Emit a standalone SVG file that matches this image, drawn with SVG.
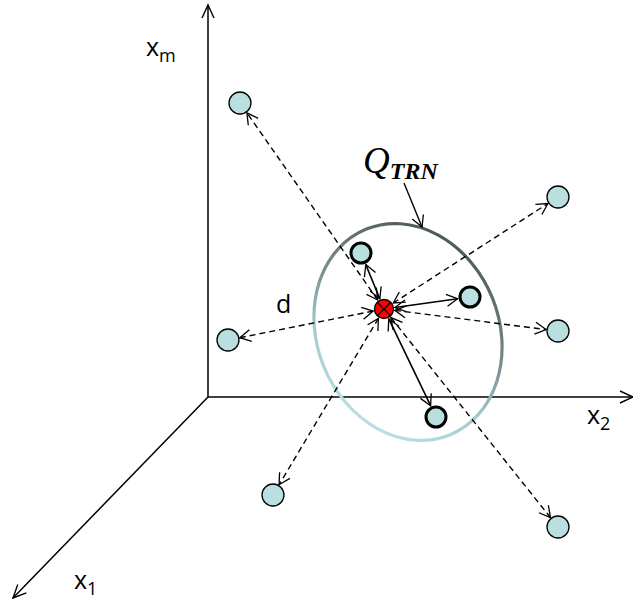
<svg xmlns="http://www.w3.org/2000/svg" width="633" height="603" viewBox="0 0 633 603">
<style>
.axis{stroke:#000;stroke-width:1.5;fill:none}
.dash{stroke:#000;stroke-width:1.4;fill:none;stroke-dasharray:6 4;marker-start:url(#ah);marker-end:url(#ah)}
.solid{stroke:#000;stroke-width:1.6;fill:none;marker-start:url(#ah);marker-end:url(#ah)}
.outer{fill:#b9dfe1;stroke:#000;stroke-width:1.3}
.inner{fill:#b9dfe1;stroke:#000;stroke-width:3}
.lbl{font-family:"Open Sans","Liberation Sans",Arial,sans-serif;fill:#000}
.q{font-family:"Liberation Serif","Times New Roman",serif;font-style:italic;fill:#000}
</style>
<defs>
<marker id="ah" markerWidth="14" markerHeight="14" refX="12" refY="7" orient="auto-start-reverse" markerUnits="userSpaceOnUse" viewBox="0 0 14 14">
<path d="M1,1 L12,7 L1,13" fill="none" stroke="#000" stroke-width="1.3"/>
</marker>
<marker id="axh" markerWidth="16" markerHeight="14" refX="14" refY="7" orient="auto" markerUnits="userSpaceOnUse" viewBox="0 0 16 14">
<path d="M1,1 L14,7 L1,13" fill="none" stroke="#000" stroke-width="1.4"/>
</marker>
<linearGradient id="eg" x1="0" y1="1" x2="1" y2="0">
<stop offset="0" stop-color="#c6ecef"/>
<stop offset="0.35" stop-color="#a4ccd0"/>
<stop offset="0.55" stop-color="#7a8e8e"/>
<stop offset="1" stop-color="#3a4242"/>
</linearGradient>
</defs>
<g id="axes">
<line class="axis" x1="208" y1="397" x2="208" y2="5" marker-end="url(#axh)"/>
<line class="axis" x1="208" y1="397" x2="633" y2="397" marker-end="url(#axh)"/>
<line class="axis" x1="208" y1="397" x2="13" y2="598" marker-end="url(#axh)"/>
</g>
<g id="labels">
<text class="lbl" x="146" y="56" font-size="25">x<tspan font-size="18" dy="6">m</tspan></text>
<text class="lbl" x="587" y="424" font-size="25">x<tspan font-size="18" dy="6">2</tspan></text>
<text class="lbl" x="74" y="589" font-size="25">x<tspan font-size="18" dy="6">1</tspan></text>
<text class="lbl" x="276" y="313" font-size="25">d</text>
<text class="q" x="363" y="173" font-size="37">Q<tspan font-size="24" font-weight="bold" dy="6">TRN</tspan></text>
</g>
<g id="region">
<ellipse cx="408" cy="332" rx="91" ry="111" transform="rotate(-22 408 332)" fill="none" stroke="url(#eg)" stroke-width="3.2"/>
</g>
<g id="connectors">
<line x1="404" y1="183" x2="422" y2="227" stroke="#000" stroke-width="1.4" marker-end="url(#ah)"/>
<line class="dash" x1="377.7" y1="300" x2="246.9" y2="112.8"/>
<line class="dash" x1="373.2" y1="311.1" x2="239.8" y2="337.7"/>
<line class="dash" x1="393.3" y1="303" x2="547.9" y2="203.5"/>
<line class="dash" x1="394.9" y1="310.4" x2="546.1" y2="329.5"/>
<line class="dash" x1="378.4" y1="318.4" x2="279.1" y2="484.7"/>
<line class="dash" x1="390.9" y1="317.6" x2="550.5" y2="517.6"/>
<line class="solid" x1="379.8" y1="298.8" x2="365.8" y2="264.6"/>
<line class="solid" x1="394.9" y1="307.5" x2="457.6" y2="298.7"/>
<line class="solid" x1="388.8" y1="318.9" x2="430.6" y2="405.7"/>
</g>
<g id="outer-nodes">
<circle id="n-tl" class="outer" cx="240" cy="103" r="11"/>
<circle id="n-l" class="outer" cx="228" cy="340" r="11"/>
<circle id="n-tr" class="outer" cx="558" cy="197" r="11"/>
<circle id="n-r" class="outer" cx="558" cy="331" r="11"/>
<circle id="n-bl" class="outer" cx="273" cy="495" r="11"/>
<circle id="n-br" class="outer" cx="558" cy="527" r="11"/>
</g>
<g id="inner-nodes">
<circle id="i-1" class="inner" cx="361" cy="253" r="10"/>
<circle id="i-2" class="inner" cx="470" cy="297" r="10"/>
<circle id="i-3" class="inner" cx="436" cy="417" r="10"/>
</g>
<g id="center">
<circle cx="384" cy="309" r="9.5" fill="#ff0000" stroke="#000" stroke-width="1.4"/>
<path d="M377.3,302.3 L390.7,315.7 M390.7,302.3 L377.3,315.7" stroke="#000" stroke-width="1.3"/>
</g>
</svg>
